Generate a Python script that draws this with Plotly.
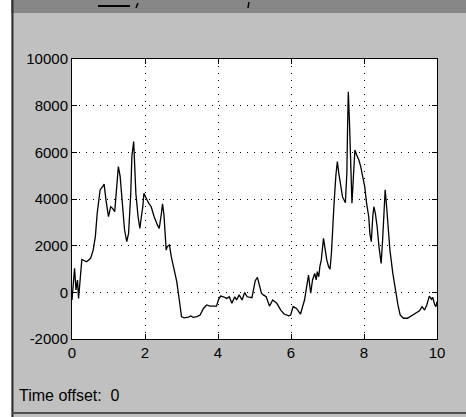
import plotly.graph_objects as go

# Time (s) and signal values
t = [0.00, 0.07, 0.11, 0.15, 0.18, 0.27, 0.40, 0.51, 0.58, 0.64, 0.69, 0.77, 0.84, 0.88, 0.93,
     1.00, 1.06, 1.11, 1.17, 1.22, 1.27, 1.32, 1.37, 1.44, 1.50, 1.55, 1.61, 1.64, 1.69, 1.72,
     1.75, 1.81, 1.86, 1.90, 1.94, 1.97, 2.03, 2.10, 2.17, 2.25, 2.34, 2.39, 2.45, 2.48, 2.52,
     2.58, 2.61, 2.67, 2.72, 2.79, 2.87, 2.94, 3.00, 3.07, 3.19, 3.25, 3.32, 3.42, 3.49,
     3.51, 3.60, 3.69, 3.78, 3.96, 4.01, 4.07, 4.15, 4.24, 4.31, 4.38, 4.46, 4.51, 4.58, 4.66,
     4.73, 4.80, 4.93, 4.99, 5.02, 5.08, 5.13,
     5.19, 5.24, 5.32, 5.41, 5.50, 5.61, 5.72, 5.81, 5.94, 5.99, 6.06, 6.15, 6.26, 6.37, 6.43,
     6.48, 6.54, 6.59, 6.65, 6.69, 6.72, 6.76, 6.79, 6.83, 6.89, 6.92, 6.98, 7.03, 7.07, 7.11,
     7.14, 7.18, 7.23, 7.27, 7.31, 7.36, 7.41, 7.49, 7.53, 7.55, 7.57, 7.60, 7.64, 7.67, 7.71,
     7.75, 7.80, 7.86, 7.91, 7.96, 8.02, 8.07, 8.13, 8.16, 8.20, 8.24, 8.27, 8.31, 8.36, 8.41,
     8.47, 8.51, 8.55, 8.58, 8.62, 8.66, 8.71, 8.79, 8.86, 8.93, 8.99, 9.08, 9.19, 9.30, 9.41,
     9.52, 9.59, 9.66, 9.72, 9.79, 9.85, 9.88, 9.94, 9.97, 10.00]
signal = [-330, 1030, 100, 530, -260, 1410, 1310, 1460, 1810, 2390, 3390, 4390, 4530, 4640, 3960,
          3240, 3670, 3600, 3460, 4390, 5390, 4960, 3820, 2670, 2170, 2530, 4240, 5820, 6460, 5530,
          4240, 3240, 2740, 3240, 3670, 4240, 4030, 3820, 3670, 3240, 2890, 2740, 3390, 3790, 3310,
          1810, 1960, 2030, 1530, 960, 460, -330, -1040, -1090, -1060, -1010, -1070, -1040, -1010,
          -970, -690, -540, -590, -590, -330, -160, -190, -260, -190, -470, -190, -330, -110, -330,
          -10, -190, -230, 270, 500, 640, 310,
          -40, -110, -190, -590, -330, -470, -760, -930, -1010, -970, -610, -690, -930, -330, 240,
          740, -40, 530, 810, 530, 890, 670, 1100, 1390, 2310, 1960, 1390, 1100, 990, 1740,
          2810, 3820, 5030, 5600, 5100, 4530, 4100, 3840, 5100, 7100, 8600, 7390, 5100, 3820, 4960,
          6100, 5890, 5670, 5390, 5030, 4530, 3820, 3240, 2530, 2170, 3240, 3670, 3390, 2810, 1960,
          1240, 2240, 3820, 4390, 3670, 2810, 1810, 810, 100, -540, -970, -1110, -1110, -1000, -900,
          -790, -610, -760, -540, -160, -300, -210, -540, -610, -400]

x_ticks = [0, 2, 4, 6, 8, 10]
x_labels = ["0", "2", "4", "6", "8", "10"]
y_ticks = [-2000, 0, 2000, 4000, 6000, 8000, 10000]
y_labels = ["-2000", "0", "2000", "4000", "6000", "8000", "10000"]

FONT = "Liberation Sans, Arial, sans-serif"

fig = go.Figure(go.Scatter(x=t, y=signal, mode="lines",
                           line=dict(color="black", width=1.3), hoverinfo="skip"))

W, H = 466, 417
L, R, T, B = 72, 437, 59, 339


def px(xp):
    return (xp - L) / (R - L)


def py(yp):
    return (B - yp) / (B - T)


shapes = [
    # white strip at far left
    dict(type="rect", xref="paper", yref="paper", x0=px(0), x1=px(11), y0=py(H), y1=py(0),
         fillcolor="white", line=dict(width=0), layer="below"),
    # dark top band
    dict(type="rect", xref="paper", yref="paper", x0=px(11), x1=px(W), y0=py(13), y1=py(0),
         fillcolor="#878787", line=dict(width=0), layer="below"),
    # left window border
    dict(type="line", xref="paper", yref="paper", x0=px(12.5), x1=px(12.5), y0=py(H), y1=py(0),
         line=dict(color="#303030", width=2)),
    # bottom window border
    dict(type="line", xref="paper", yref="paper", x0=px(12), x1=px(W), y0=py(413), y1=py(413),
         line=dict(color="#505050", width=2)),
    # fragments of the cropped title bar
    dict(type="line", xref="paper", yref="paper", x0=px(98), x1=px(130), y0=py(6), y1=py(6),
         line=dict(color="black", width=2)),
    dict(type="line", xref="paper", yref="paper", x0=px(136), x1=px(138), y0=py(8), y1=py(3),
         line=dict(color="black", width=1.5)),
    dict(type="line", xref="paper", yref="paper", x0=px(248), x1=px(249), y0=py(8), y1=py(2),
         line=dict(color="black", width=1.5)),
]

fig.update_layout(
    width=W, height=H,
    margin=dict(l=L, r=W - R, t=T, b=H - B),
    paper_bgcolor="#c0c0c0", plot_bgcolor="white",
    showlegend=False,
    font=dict(family=FONT, size=15, color="black"),
    shapes=shapes,
    annotations=[dict(text="Time offset:  0", xref="paper", yref="paper",
                      x=px(17), y=py(395), xanchor="left", yanchor="middle",
                      showarrow=False, font=dict(family=FONT, size=16, color="black"))],
)
axis_common = dict(showline=True, linecolor="black", linewidth=1, mirror="ticks",
                   ticks="inside", ticklen=5, tickcolor="black", zeroline=False,
                   showgrid=True, gridcolor="black", gridwidth=1, griddash="1px,6px",
                   tickfont=dict(family=FONT, size=15, color="black"))
fig.update_xaxes(range=[0, 10], tickvals=x_ticks, ticktext=x_labels, **axis_common)
fig.update_yaxes(range=[-2000, 10000], tickvals=y_ticks, ticktext=y_labels, **axis_common)

fig.write_html("out.html", config={"displayModeBar": False},
               post_script="document.body.style.margin='0px';document.body.style.overflow='hidden';")
